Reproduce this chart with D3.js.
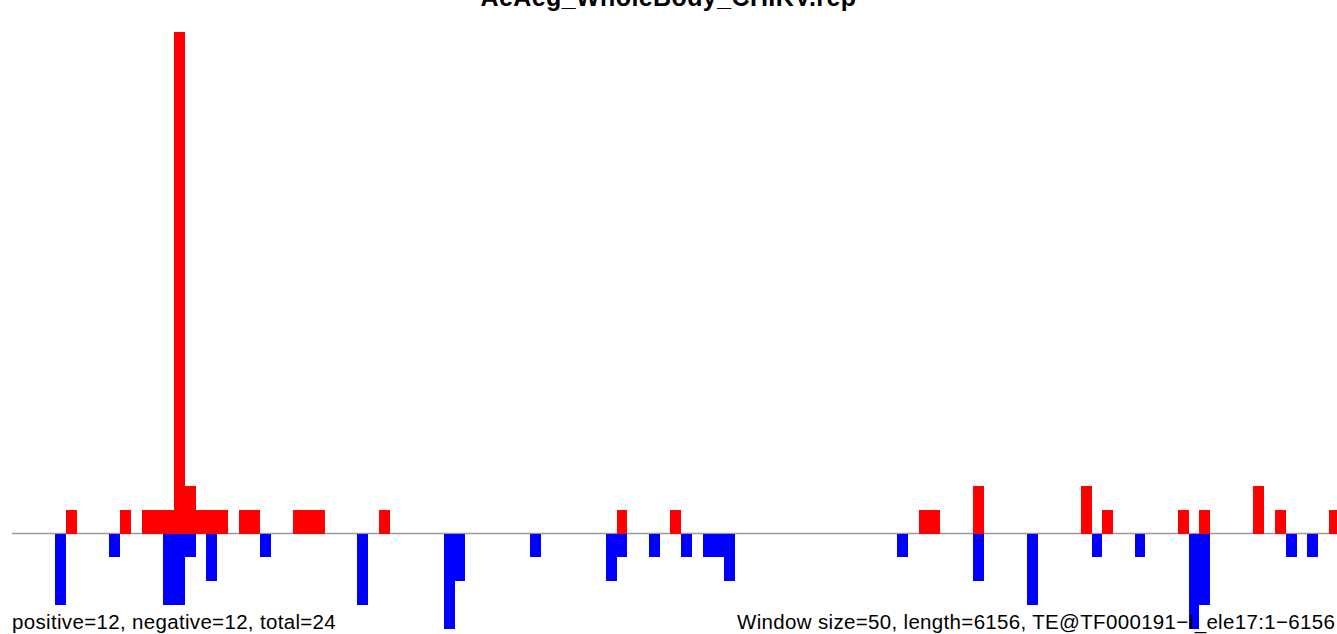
<!DOCTYPE html>
<html>
<head>
<meta charset="utf-8">
<script src="https://cdn.jsdelivr.net/npm/d3@7"></script>
<style>
  html, body { margin: 0; padding: 0; background: #fff; overflow: hidden; }
  svg { display: block; }
  text { font-family: "Liberation Sans", Arial, Helvetica, sans-serif; }
</style>
</head>
<body>
<svg id="chart" width="1337" height="634"></svg>
<script>
// ---- data ----
const title = "AeAeg_WholeBody_CHIKV.rep";
const windowSize = 50;
const seqLength = 6156;
// window index (0-based) and value for positive strand
const posWindows = [5, 10, 12, 13, 14, 15, 16, 17, 18, 19, 21, 22, 26, 27, 28, 34, 56, 61, 84, 85, 89, 99, 101, 108, 110, 115, 117, 122];
const posValues  = [1, 1, 1, 1, 1, 21, 2, 1, 1, 1, 1, 1, 1, 1, 1, 1, 1, 1, 1, 1, 2, 2, 1, 1, 1, 2, 1, 1];
// window index and value for negative strand
const negWindows = [4, 9, 14, 15, 16, 18, 23, 32, 40, 41, 48, 55, 56, 59, 62, 64, 65, 66, 82, 89, 94, 100, 104, 109, 110, 118, 120];
const negValues  = [-3, -1, -3, -3, -1, -2, -1, -3, -4, -2, -1, -2, -1, -1, -1, -1, -1, -2, -1, -2, -3, -1, -1, -4, -3, -1, -1];
const leftNote = "positive=12, negative=12, total=24";
const rightNote = "Window size=50, length=6156, TE@TF000191\u2212I_ele17:1\u22126156";

// ---- drawing ----
const svg = d3.select("#chart");
const x = d3.scaleLinear().domain([0, seqLength]).range([12, 12 + seqLength * 0.21590]);
const y = d3.scaleLinear().domain([-4, 21]).range([629.1, 31.6]);

const pos = posWindows.map((w, i) => ({ w, v: posValues[i] }));
const neg = negWindows.map((w, i) => ({ w, v: negValues[i] }));

function bars(data, color) {
  svg.append("g").selectAll("rect").data(data).join("rect")
    .attr("x", d => x(d.w * windowSize))
    .attr("width", d => x(Math.min((d.w + 1) * windowSize, seqLength)) - x(d.w * windowSize))
    .attr("y", d => Math.min(y(d.v), y(0)))
    .attr("height", d => Math.abs(y(d.v) - y(0)))
    .attr("fill", color)
    .attr("shape-rendering", "crispEdges");
}

// baseline
svg.append("line")
  .attr("x1", x(0)).attr("x2", x(seqLength))
  .attr("y1", y(0)).attr("y2", y(0))
  .attr("stroke", "#9a9a9a").attr("stroke-width", 1.3);

bars(pos, "#ff0000");
bars(neg, "#0000ff");

svg.append("text")
  .attr("x", 668.5).attr("y", 6)
  .attr("text-anchor", "middle")
  .attr("font-weight", "bold")
  .attr("font-size", 25)
  .attr("letter-spacing", 0.4)
  .text(title);

svg.append("text")
  .attr("x", 12).attr("y", 629)
  .attr("font-size", 20.5)
  .attr("letter-spacing", 0.33)
  .attr("fill", "#000")
  .text(leftNote);

svg.append("text")
  .attr("x", 737).attr("y", 629)
  .attr("font-size", 20.5)
  .attr("letter-spacing", 0.33)
  .attr("fill", "#000")
  .text(rightNote);
</script>
</body>
</html>
